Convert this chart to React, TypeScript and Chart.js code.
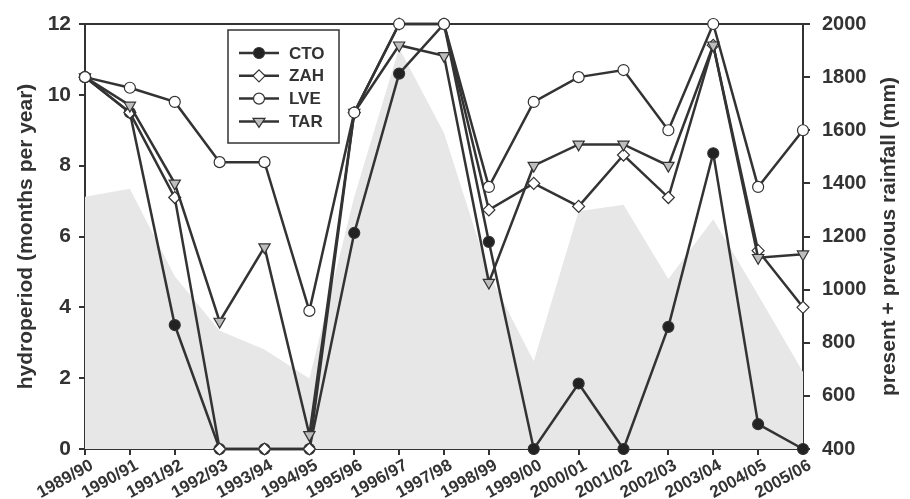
import React, { useEffect, useRef } from "react";
import { Chart, registerables } from "chart.js";

Chart.register(...registerables);

const seasons = [
  "1989/90", "1990/91", "1991/92", "1992/93", "1993/94", "1994/95",
  "1995/96", "1996/97", "1997/98", "1998/99", "1999/00", "2000/01",
  "2001/02", "2002/03", "2003/04", "2004/05", "2005/06",
];

const ctoValues = [10.5, 9.5, 3.5, 0, 0, 0, 6.1, 10.6, 12, 5.85, 0, 1.85, 0, 3.45, 8.35, 0.7, 0];
const zahValues = [10.5, 9.5, 7.1, 0, 0, 0, 9.5, 12, 12, 6.75, 7.5, 6.85, 8.3, 7.1, 11.4, 5.6, 4.0];
const lveValues = [10.5, 10.2, 9.8, 8.1, 8.1, 3.9, 9.5, 12, 12, 7.4, 9.8, 10.5, 10.7, 9.0, 12, 7.4, 9.0];
const tarValues = [10.5, 9.7, 7.5, 3.6, 5.7, 0.4, 9.5, 11.4, 11.1, 4.7, 8.0, 8.6, 8.6, 8.0, 11.4, 5.4, 5.5];
const rainfallValues = [1350, 1380, 1050, 845, 775, 665, 1350, 1910, 1590, 1060, 730, 1295, 1320, 1040, 1265, 980, 690];

const hydroTicks = [0, 2, 4, 6, 8, 10, 12];
const rainTicks = [400, 600, 800, 1000, 1200, 1400, 1600, 1800, 2000];

const leftTitle = "hydroperiod (months per year)";
const rightTitle = "present + previous rainfall (mm)";

const INK = "#333333";
const FONT = "'Liberation Sans', Arial, sans-serif";

export default function App() {
  const ref = useRef<HTMLCanvasElement | null>(null);

  useEffect(() => {
    if (!ref.current) return;

    const drawMarker = (ctx: CanvasRenderingContext2D, style: string, x: number, y: number, r: number, fill: string) => {
      ctx.save();
      ctx.fillStyle = fill;
      ctx.strokeStyle = INK;
      ctx.lineWidth = 1.2;
      ctx.beginPath();
      if (style === "circle") {
        ctx.arc(x, y, r, 0, Math.PI * 2);
      } else if (style === "rectRot") {
        ctx.moveTo(x, y - r);
        ctx.lineTo(x + r, y);
        ctx.lineTo(x, y + r);
        ctx.lineTo(x - r, y);
        ctx.closePath();
      } else if (style === "triangleDown") {
        const h = r * 1.5;
        ctx.moveTo(x - r, y - h / 3);
        ctx.lineTo(x + r, y - h / 3);
        ctx.lineTo(x, y + (2 * h) / 3);
        ctx.closePath();
      }
      ctx.fill();
      ctx.stroke();
      ctx.restore();
    };

    const overlay = {
      id: "overlay",
      beforeDatasetsDraw(chart: any) {
        const { ctx, chartArea } = chart;
        ctx.save();
        ctx.strokeStyle = INK;
        ctx.lineWidth = 2;
        ctx.beginPath();
        ctx.moveTo(chartArea.left, chartArea.top);
        ctx.lineTo(chartArea.right, chartArea.top);
        ctx.stroke();
        ctx.restore();
      },
      afterDraw(chart: any) {
        const { ctx, chartArea } = chart;
        const midY = (chartArea.top + chartArea.bottom) / 2;

        // x category labels, placed from the category scale
        const xs = chart.scales.x;
        ctx.save();
        ctx.fillStyle = INK;
        ctx.font = `bold 17px ${FONT}`;
        ctx.textAlign = "right";
        ctx.textBaseline = "top";
        seasons.forEach((lab, i) => {
          const px = xs.getPixelForValue(i);
          ctx.save();
          ctx.translate(px + 3, chartArea.bottom + 8);
          ctx.rotate((-29 * Math.PI) / 180);
          ctx.fillText(lab, 0, 0);
          ctx.restore();
        });
        ctx.restore();

        ctx.save();
        ctx.fillStyle = INK;
        ctx.textAlign = "center";
        ctx.textBaseline = "middle";
        ctx.font = `bold 21px ${FONT}`;
        ctx.translate(26, midY);
        ctx.rotate(-Math.PI / 2);
        ctx.fillText(leftTitle, 0, 0);
        ctx.restore();

        ctx.save();
        ctx.fillStyle = INK;
        ctx.textAlign = "center";
        ctx.textBaseline = "middle";
        ctx.font = `bold 21px ${FONT}`;
        ctx.translate(889, midY);
        ctx.rotate(-Math.PI / 2);
        ctx.fillText(rightTitle, 0, 0);
        ctx.restore();

        // legend
        const bx = chartArea.left + 143;
        const by = chartArea.top + 6;
        const bw = 111;
        const bh = 113;
        ctx.save();
        ctx.fillStyle = "#ffffff";
        ctx.fillRect(bx, by, bw, bh);
        ctx.strokeStyle = INK;
        ctx.lineWidth = 1.5;
        ctx.strokeRect(bx, by, bw, bh);
        const entries = [
          { name: "CTO", style: "circle", fill: "#222222", r: 5.5 },
          { name: "ZAH", style: "rectRot", fill: "#ffffff", r: 6 },
          { name: "LVE", style: "circle", fill: "#ffffff", r: 5.5 },
          { name: "TAR", style: "triangleDown", fill: "#bdbdbd", r: 6 },
        ];
        entries.forEach((e, i) => {
          const y = by + 23 + i * 22.8;
          ctx.strokeStyle = INK;
          ctx.lineWidth = 2.5;
          ctx.beginPath();
          ctx.moveTo(bx + 11, y);
          ctx.lineTo(bx + 51, y);
          ctx.stroke();
          drawMarker(ctx, e.style, bx + 31, y, e.r, e.fill);
          ctx.fillStyle = INK;
          ctx.font = `bold 17px ${FONT}`;
          ctx.textAlign = "left";
          ctx.textBaseline = "middle";
          ctx.fillText(e.name, bx + 61, y + 1);
        });
        ctx.restore();
      },
    };

    const lineBase = {
      borderColor: INK,
      borderWidth: 2.5,
      pointBorderColor: INK,
      pointBorderWidth: 1.2,
      tension: 0,
      fill: false,
      clip: false as any,
      yAxisID: "y",
    };

    const chart = new Chart(ref.current, {
      type: "line",
      data: {
        labels: seasons,
        datasets: [
          {
            ...lineBase,
            label: "CTO",
            data: ctoValues,
            pointStyle: "circle",
            pointRadius: 5.5,
            pointBackgroundColor: "#222222",
            order: 3,
          },
          {
            ...lineBase,
            label: "ZAH",
            data: zahValues,
            pointStyle: "rectRot",
            pointRadius: 6,
            pointBackgroundColor: "#ffffff",
            order: 2,
          },
          {
            ...lineBase,
            label: "LVE",
            data: lveValues,
            pointStyle: "circle",
            pointRadius: 5.5,
            pointBackgroundColor: "#ffffff",
            order: 0,
          },
          {
            ...lineBase,
            label: "TAR",
            data: tarValues,
            pointStyle: "triangle",
            pointRotation: 180,
            pointRadius: 6.5,
            pointBackgroundColor: "#bdbdbd",
            order: 1,
          },
          {
            label: "rainfall",
            data: rainfallValues,
            yAxisID: "y2",
            fill: "start",
            backgroundColor: "#e7e7e7",
            borderWidth: 0,
            pointRadius: 0,
            tension: 0,
            order: 10,
          },
        ],
      },
      options: {
        animation: false,
        responsive: true,
        maintainAspectRatio: false,
        layout: { padding: { top: 21, left: 0, right: 0, bottom: 0 } },
        plugins: {
          legend: { display: false },
          tooltip: { enabled: false },
        },
        scales: {
          x: {
            type: "category",
            offset: false,
            grid: { display: true, drawOnChartArea: false, drawTicks: true, tickLength: 6, color: INK, lineWidth: 2 },
            border: { display: true, color: INK, width: 2 },
            ticks: { display: false, autoSkip: false },
            afterFit: (s: any) => { s.height = 50; },
          },
          y: {
            position: "left",
            min: 0,
            max: 12,
            afterBuildTicks: (s: any) => { s.ticks = hydroTicks.map((v) => ({ value: v })); },
            grid: { display: true, drawOnChartArea: false, tickLength: 6, color: INK, lineWidth: 2 },
            border: { display: true, color: INK, width: 2 },
            ticks: { color: INK, font: { family: FONT, size: 21, weight: "bold" }, padding: 8, callback: (v: any) => String(v) },
            afterFit: (s: any) => { s.width = 85; },
          },
          y2: {
            position: "right",
            min: 400,
            max: 2000,
            afterBuildTicks: (s: any) => { s.ticks = rainTicks.map((v) => ({ value: v })); },
            grid: { display: true, drawOnChartArea: false, tickLength: 7, color: INK, lineWidth: 2 },
            border: { display: true, color: INK, width: 2 },
            ticks: { color: INK, font: { family: FONT, size: 20, weight: "bold" }, padding: 12, callback: (v: any) => String(v) },
            afterFit: (s: any) => { s.width = 107; },
          },
        },
      },
      plugins: [overlay],
    });

    return () => chart.destroy();
  }, []);

  return (
    <div style={{ position: "fixed", left: 0, top: 0, width: 910, height: 499, background: "#ffffff" }}>
      <canvas ref={ref} />
    </div>
  );
}
